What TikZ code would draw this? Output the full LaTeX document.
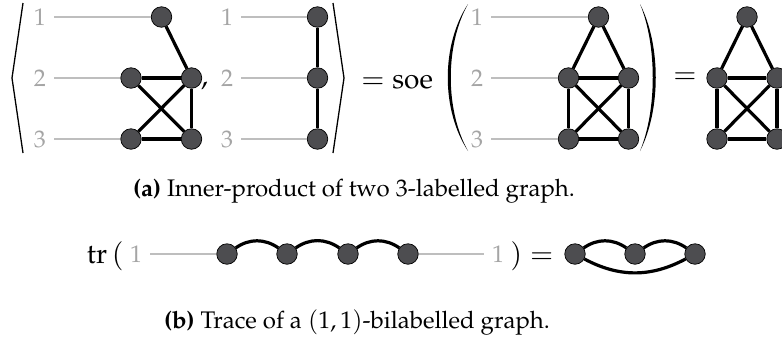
\documentclass[tikz,border=0pt]{standalone}
\usepackage[T1]{fontenc}
\usepackage{mathpazo}
\definecolor{vfill}{RGB}{77,77,80}
\definecolor{lblc}{RGB}{165,165,165}
\definecolor{linec}{RGB}{190,190,190}
\tikzset{
  vtx/.style={circle, fill=vfill, draw=black, line width=0.7pt, minimum size=20.5pt, inner sep=0pt},
  gedge/.style={line width=3.2pt, black},
  glink/.style={linec, line width=1.1pt},
  lbl/.style={text=lblc, inner sep=8pt, font=\fontsize{24}{28}\selectfont},
  txt/.style={inner sep=0pt, font=\fontsize{28}{32}\selectfont},
  captext/.style={inner sep=0pt, font=\fontsize{24}{30}\selectfont},
}
\begin{document}
\begin{tikzpicture}[x=1pt,y=-1pt]
\path[use as bounding box] (0,0) rectangle (782,349);
% ---------- graph A
\draw[line width=1.3pt] (23,3) -- (12,78) -- (23,153);
\node[lbl] (la1) at (40,17) {1};
\node[lbl] (la2) at (40,78) {2};
\node[lbl] (la3) at (40,139) {3};
\node[vtx] (a1) at (161.5,17) {};
\node[vtx] (a2) at (131,78) {};
\node[vtx] (a3) at (191.5,78) {};
\node[vtx] (a4) at (131,139) {};
\node[vtx] (a5) at (191.5,139) {};
\draw[glink] (la1) -- (a1);
\draw[glink] (la2) -- (a2);
\draw[glink] (la3) -- (a4);
\draw[gedge] (a1) -- (a3);
\draw[gedge] (a2) -- (a3);
\draw[gedge] (a2) -- (a5);
\draw[gedge] (a4) -- (a3);
\draw[gedge] (a3) -- (a5);
\draw[gedge] (a4) -- (a5);
\node[txt, anchor=base west] (comma) at (201,85) {$,$};
% ---------- graph B
\node[lbl] (lb1) at (227,17) {1};
\node[lbl] (lb2) at (227,78) {2};
\node[lbl] (lb3) at (227,139) {3};
\node[vtx] (b1) at (317.5,17) {};
\node[vtx] (b2) at (317.5,78) {};
\node[vtx] (b3) at (317.5,139) {};
\draw[glink] (lb1) -- (b1);
\draw[glink] (lb2) -- (b2);
\draw[glink] (lb3) -- (b3);
\draw[gedge] (b1) -- (b2);
\draw[gedge] (b2) -- (b3);
\draw[line width=1.3pt] (333,3) -- (344,78) -- (333,153);
\node[txt, anchor=base west] (eq1) at (361,88) {$=\mathrm{soe}$};
% ---------- graph C
\fill (468,4) .. controls (441,45) and (441,110) .. (468,151) .. controls (445,110) and (445,45) .. (468,4) -- cycle;
\node[lbl] (lc1) at (477,17) {1};
\node[lbl] (lc2) at (477,78) {2};
\node[lbl] (lc3) at (477,139) {3};
\node[vtx] (c1) at (598.5,17) {};
\node[vtx] (c2) at (568.5,78) {};
\node[vtx] (c3) at (628.5,78) {};
\node[vtx] (c4) at (568.5,139) {};
\node[vtx] (c5) at (628.5,139) {};
\draw[glink] (lc1) -- (c1);
\draw[glink] (lc2) -- (c2);
\draw[glink] (lc3) -- (c4);
\draw[gedge] (c1) -- (c2);
\draw[gedge] (c1) -- (c3);
\draw[gedge] (c2) -- (c3);
\draw[gedge] (c2) -- (c4);
\draw[gedge] (c3) -- (c5);
\draw[gedge] (c2) -- (c5);
\draw[gedge] (c3) -- (c4);
\draw[gedge] (c4) -- (c5);
\fill (640,4) .. controls (661,45) and (661,110) .. (640,151) .. controls (657,110) and (657,45) .. (640,4) -- cycle;
\node[txt] (eq2) at (685,78) {$=$};
% ---------- graph D
\node[vtx] (d1) at (747,17) {};
\node[vtx] (d2) at (717,78) {};
\node[vtx] (d3) at (777,78) {};
\node[vtx] (d4) at (717,139) {};
\node[vtx] (d5) at (777,139) {};
\draw[gedge] (d1) -- (d2);
\draw[gedge] (d1) -- (d3);
\draw[gedge] (d2) -- (d3);
\draw[gedge] (d2) -- (d4);
\draw[gedge] (d3) -- (d5);
\draw[gedge] (d2) -- (d5);
\draw[gedge] (d3) -- (d4);
\draw[gedge] (d4) -- (d5);
% ---------- caption a
\node[captext] (capa) at (354,191) {\textbf{(a)} Inner-product of two 3-labelled graph.};
% ---------- row b
\node[txt, anchor=base east] (tr) at (124,263) {$\mathrm{tr}\,($};
\node[lbl] (le1) at (136,254) {1};
\node[vtx] (e1) at (227,254) {};
\node[vtx] (e2) at (287,254) {};
\node[vtx] (e3) at (348,254) {};
\node[vtx] (e4) at (408,254) {};
\node[lbl] (le2) at (498,254) {1};
\draw[glink] (le1) -- (e1);
\draw[glink] (e4) -- (le2);
\draw[gedge] (e1) to[bend left=35] (e2);
\draw[gedge] (e2) to[bend left=35] (e3);
\draw[gedge] (e3) to[bend left=35] (e4);
\node[txt, anchor=base west] (eq3) at (510,263) {$)=$};
\node[vtx] (f1) at (575,254) {};
\node[vtx] (f2) at (635,254) {};
\node[vtx] (f3) at (695,254) {};
\draw[gedge] (f1) to[bend left=35] (f2);
\draw[gedge] (f2) to[bend left=35] (f3);
\draw[gedge] (f1) to[bend right=28] (f3);
% ---------- caption b
\node[captext] (capb) at (357,322) {\textbf{(b)} Trace of a $(1,1)$-bilabelled graph.};
\end{tikzpicture}
\end{document}
